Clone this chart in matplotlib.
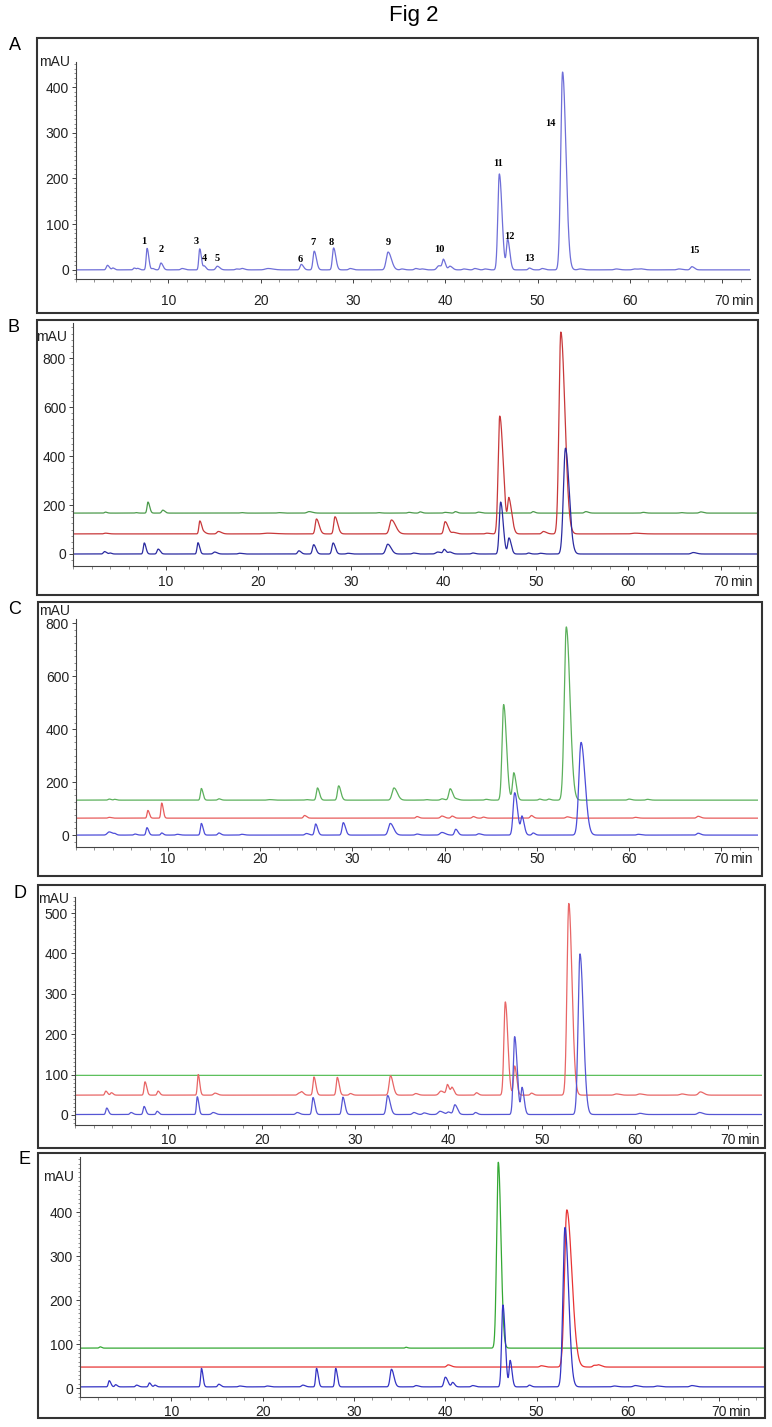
import numpy as np
import matplotlib
matplotlib.use("Agg")
import matplotlib.pyplot as plt
from matplotlib.patches import Rectangle
from matplotlib.ticker import MultipleLocator
from matplotlib import font_manager

# ---- peak tables: (retention time [min], height [mAU], sigma [min]) ----
A_BLUE = [(3.4, 10, .12), (4.0, 4, .1), (6.3, 4, .1), (6.7, 3, .1), (7.7, 47, .1),
          (8.3, 3, .1), (9.2, 15, .12), (11.5, 3, .15), (13.4, 46, .1), (13.9, 8, .1),
          (15.3, 8, .15), (17.4, 2, .15), (18.0, 3, .15), (20.8, 3, .3), (24.4, 12, .13),
          (25.8, 41, .13), (27.9, 48, .13), (29.7, 3, .15), (33.8, 39, .2), (35.3, 2, .15),
          (36.8, 3, .15), (37.5, 2, .15), (39.3, 9, .2), (39.8, 20, .12), (40.5, 8, .15),
          (42.0, 2, .15), (43.2, 3, .15), (44.3, 2, .15), (45.85, 210, .16), (46.75, 66, .13),
          (49.1, 4, .12), (50.5, 3, .15), (52.7, 433, .2), (54.6, 2, .2), (58.5, 2, .2),
          (60.5, 2, .2), (61.2, 2, .2), (65.3, 2, .2), (66.7, 7, .15)]
A_LABELS = ["1", "2", "3", "4", "5", "6", "7", "8", "9", "10", "11", "12", "13", "14", "15"]
A_LABEL_T = [7.3, 9.2, 13.0, 13.9, 15.3, 24.3, 25.7, 27.6, 33.8, 39.4, 45.7, 46.9, 49.1, 51.4, 67.0]
A_LABEL_Y = [61, 44, 63, 24, 24, 22, 59, 59, 59, 44, 232, 74, 24, 321, 42]

B_GREEN = [(3.5, 4, .1), (6.8, 2, .1), (8.1, 45, .1), (9.7, 12, .12), (18.2, 2, .15),
           (22.2, 2, .15), (25.5, 6, .2), (33.0, 2, .15), (36.3, 3, .15), (37.5, 5, .12),
           (40.2, 3, .15), (41.3, 6, .12), (43.8, 4, .15), (49.7, 6, .12), (55.4, 6, .15),
           (61.6, 3, .15), (65.7, 2, .15), (67.8, 5, .15)]
B_RED = [(3.5, 3, .15), (13.7, 53, .1), (14.2, 5, .1), (15.7, 10, .15), (21.0, 3, .4),
         (26.3, 61, .13), (28.3, 70, .13), (34.4, 57, .2), (40.2, 50, .14), (41.1, 6, .15),
         (44.7, 3, .15), (46.1, 481, .17), (47.1, 135, .14), (50.8, 10, .15),
         (52.7, 824, .2), (60.7, 3, .3)]
B_BLUE = [(3.4, 10, .12), (4.0, 4, .1), (7.7, 45, .1), (9.2, 20, .12), (13.5, 46, .1),
          (15.3, 8, .15), (18.0, 3, .15), (24.4, 13, .13), (26.0, 38, .13), (28.1, 45, .13),
          (29.7, 3, .15), (34.0, 40, .2), (36.8, 4, .15), (39.4, 8, .2), (40.1, 18, .12),
          (40.7, 8, .15), (43.2, 4, .15), (46.2, 212, .15), (47.1, 65, .13), (49.2, 4, .12),
          (50.5, 3, .15), (53.2, 432, .22), (67.0, 6, .2)]
B_OFFSETS = [167, 82, 0]

C_GREEN = [(3.6, 4, .12), (4.2, 3, .1), (13.6, 44, .1), (15.5, 5, .12), (21.0, 2, .2),
           (25.0, 2, .15), (26.2, 46, .12), (28.5, 54, .13), (34.5, 46, .2), (38.0, 2, .15),
           (39.7, 5, .15), (40.6, 43, .15), (41.3, 4, .15), (44.5, 3, .15), (46.4, 361, .17),
           (47.5, 103, .14), (50.3, 4, .12), (51.3, 4, .12), (53.2, 654, .22), (60.0, 4, .15),
           (62.0, 3, .15)]
C_RED = [(3.6, 3, .12), (7.8, 29, .09), (9.3, 57, .09), (24.8, 10, .12), (37.0, 6, .12),
         (39.7, 8, .15), (40.8, 8, .12), (43.1, 6, .12), (44.2, 4, .12), (49.4, 10, .12),
         (53.3, 5, .15), (60.7, 3, .15), (67.5, 7, .15)]
C_BLUE = [(3.6, 12, .2), (4.2, 4, .1), (6.4, 4, .12), (7.7, 28, .1), (9.3, 8, .1),
          (11.0, 3, .15), (13.6, 44, .1), (15.5, 8, .12), (18.0, 3, .15), (25.0, 6, .15),
          (26.0, 42, .12), (29.0, 47, .13), (34.1, 44, .2), (37.0, 4, .15), (39.7, 10, .2),
          (41.2, 22, .13), (43.7, 5, .15), (47.6, 160, .17), (48.4, 67, .13), (49.6, 8, .12),
          (54.8, 350, .24), (61.0, 3, .15), (67.5, 7, .15)]
C_OFFSETS = [132, 64, 0]

D_GREEN = []
D_RED = [(3.3, 10, .1), (3.9, 6, .1), (7.5, 33, .1), (8.9, 10, .1), (13.2, 51, .09),
         (15.0, 5, .15), (24.0, 5, .15), (24.3, 6, .12), (25.6, 45, .11), (28.1, 44, .11),
         (29.5, 4, .12), (33.8, 48, .15), (36.5, 4, .15), (39.2, 10, .2), (39.9, 25, .12),
         (40.4, 18, .12), (43.0, 6, .12), (46.1, 231, .15), (47.1, 72, .12), (48.9, 5, .12),
         (52.9, 475, .19), (58.0, 3, .2), (60.5, 3, .2), (65.0, 3, .2), (67.0, 8, .2)]
D_BLUE = [(3.4, 16, .1), (6.0, 5, .12), (7.4, 20, .1), (8.8, 8, .1), (13.1, 44, .09),
          (14.8, 5, .15), (23.8, 5, .15), (25.5, 42, .11), (28.7, 43, .12), (33.5, 47, .15),
          (36.3, 5, .15), (37.4, 4, .15), (39.1, 8, .2), (40.0, 6, .15), (40.7, 24, .15),
          (42.9, 5, .12), (47.1, 193, .15), (47.9, 65, .12), (54.1, 398, .2), (60.5, 3, .2),
          (66.9, 5, .2)]
D_OFFSETS = [98, 49, 1]

E_GREEN = [(2.2, 3, .1), (35.7, 2, .1), (45.8, 422, .18)]
E_RED = [(40.3, 5, .15), (50.5, 3, .15), (53.3, 357, .25), (56.3, 4, .15), (56.8, 4, .15)]
E_BLUE = [(3.2, 14, .1), (3.9, 5, .1), (6.2, 4, .12), (7.6, 9, .1), (8.2, 4, .1),
          (13.3, 42, .09), (15.2, 6, .12), (17.5, 2, .15), (20.5, 2, .15), (24.4, 4, .15),
          (25.9, 42, .1), (28.0, 42, .1), (34.1, 40, .15), (36.8, 3, .15), (40.0, 22, .15),
          (40.8, 10, .12), (43.0, 3, .15), (46.3, 186, .14), (47.1, 59, .11), (49.2, 4, .12),
          (53.1, 362, .22), (58.5, 2, .2), (60.8, 3, .2), (63.2, 2, .2), (67.0, 3, .2)]
E_OFFSETS = [91, 48, 3]

W, H = 772, 1427
names = {f.name for f in font_manager.fontManager.ttflist}
SANS = "Liberation Sans"
NARROW = "Liberation Sans Narrow" if "Liberation Sans Narrow" in names else SANS
plt.rcParams["font.family"] = [SANS, "DejaVu Sans"]


def trace(t, peaks, base, tail=1.8):
    y = np.full_like(t, float(base))
    for c, a, s in peaks:
        sig = np.where(t < c, s, s * tail)
        y += a * np.exp(-0.5 * ((t - c) / sig) ** 2)
    return y


def px_rect(l, t, r, b):
    return [l / W, 1 - b / H, (r - l) / W, (b - t) / H]


def panel(fig, rect, xmax, ylim, ytop, ystep, yminor, mau_y, traces, font, xpad):
    ax = fig.add_axes(px_rect(*rect))
    t = np.linspace(0, xmax, 6000)
    for peaks, base, color, tail in traces:
        ax.plot(t, trace(t, peaks, base, tail), color=color, lw=0.9)
    ax.set_xlim(0, xmax)
    ax.set_ylim(*ylim)
    for s in ["top", "right"]:
        ax.spines[s].set_visible(False)
    for s in ["left", "bottom"]:
        ax.spines[s].set_color("#444444")
        ax.spines[s].set_linewidth(0.8)
    ax.set_xticks(np.arange(10, 71, 10))
    ax.xaxis.set_minor_locator(MultipleLocator(2))
    ax.set_yticks(np.arange(0, ytop + 1, ystep))
    ax.yaxis.set_minor_locator(MultipleLocator(yminor))
    ax.tick_params(which="major", direction="out", length=3, width=0.7, color="#444444",
                   labelsize=10)
    ax.tick_params(which="minor", direction="out", length=1.8, width=0.5, color="#666666")
    ax.tick_params(axis="y", pad=2)
    ax.tick_params(axis="x", pad=xpad)
    for lab in ax.get_xticklabels() + ax.get_yticklabels():
        lab.set_family([font, "DejaVu Sans"])
        lab.set_color("#222222")
    ax.annotate("mAU", xy=(0, mau_y), xycoords=("axes fraction", "data"),
                xytext=(-4, 0), textcoords="offset points", ha="right", va="center",
                fontsize=10, family=[font, "DejaVu Sans"], color="#222222",
                annotation_clip=False)
    # "min" unit sits right after the 70 tick label, same baseline
    ax.annotate("min", xy=(70, 0), xycoords=("data", "axes fraction"),
                xytext=(6.5, -(xpad + 3)), textcoords="offset points", ha="left", va="top",
                fontsize=10, family=[font, "DejaVu Sans"], color="#222222",
                annotation_clip=False)
    return ax


fig = plt.figure(figsize=(W / 100, H / 100), dpi=100)
fig.text(414 / W, 1 - 15 / H, "Fig 2", ha="center", va="center", fontsize=16)

# panel frames and letters
boxes = [(37, 38, 758, 313), (37, 320, 758, 595), (38, 602, 762, 876),
         (38, 885, 765, 1148), (38, 1153, 765, 1418)]
letters = [("A", 15, 45, SANS), ("B", 14, 327, SANS), ("C", 15, 609, NARROW),
           ("D", 20, 893, NARROW), ("E", 24, 1159, NARROW)]
for l, tp, r, b in boxes:
    fig.add_artist(Rectangle((l / W, 1 - b / H), (r - l) / W, (b - tp) / H,
                             transform=fig.transFigure, fill=False,
                             ec="#333333", lw=1.5))
for s, x, y, f in letters:
    fig.text(x / W, 1 - y / H, s, ha="center", va="center", fontsize=13,
             family=[f, "DejaVu Sans"])

axA = panel(fig, (76, 62, 750, 279), 73, (-20, 455), 400, 100, 10, 455,
            [(A_BLUE, 0, "#6f6fd8", 1.8)], SANS, 7.5)
for lab, lt, ly in zip(A_LABELS, A_LABEL_T, A_LABEL_Y):
    axA.text(lt, ly, lab, ha="center", va="center", fontsize=7.5,
             family=["Liberation Serif", "DejaVu Serif"], fontweight="bold")

panel(fig, (73, 323, 758, 566), 74, (-49, 943), 800, 200, 25, 886,
      [(B_GREEN, B_OFFSETS[0], "#4c9a4c", 1.8),
       (B_RED, B_OFFSETS[1], "#c8383a", 2.2),
       (B_BLUE, B_OFFSETS[2], "#2b2ba0", 1.8)], SANS, 3.2)

panel(fig, (76, 619, 758, 847), 74, (-45, 816), 800, 200, 25, 845,
      [(C_GREEN, C_OFFSETS[0], "#5cb05c", 1.8),
       (C_RED, C_OFFSETS[1], "#e85c5c", 1.8),
       (C_BLUE, C_OFFSETS[2], "#4c4cd8", 1.8)], NARROW, 0.5)

panel(fig, (75, 897, 762, 1125), 73.6, (-25, 540), 500, 100, 10, 535,
      [(D_GREEN, D_OFFSETS[0], "#5cc05c", 1.8),
       (D_RED, D_OFFSETS[1], "#e86666", 1.8),
       (D_BLUE, D_OFFSETS[2], "#5656d4", 1.8)], NARROW, 2.5)

panel(fig, (80, 1157, 765, 1397), 75, (-20, 525), 400, 100, 10, 480,
      [(E_GREEN, E_OFFSETS[0], "#34a834", 1.6),
       (E_RED, E_OFFSETS[1], "#e83434", 2.2),
       (E_BLUE, E_OFFSETS[2], "#3434c4", 1.8)], NARROW, 2.5)

fig.savefig("out.png", dpi=100)
